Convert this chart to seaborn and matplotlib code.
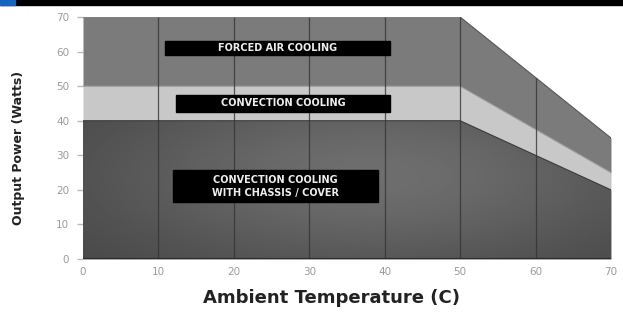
import numpy as np
import pandas as pd
import matplotlib
matplotlib.use("Agg")
import matplotlib.pyplot as plt
from matplotlib.patches import Polygon, Rectangle
import seaborn as sns

# derating curves (ambient temperature C -> output power W)
temp = [0, 10, 20, 30, 40, 50, 60, 70]
forced_air = [70, 70, 70, 70, 70, 70, 52.5, 35]
convection = [50, 50, 50, 50, 50, 50, 37.5, 25]
chassis_cover = [40, 40, 40, 40, 40, 40, 30, 20]

region_labels = ["FORCED AIR COOLING", "CONVECTION COOLING",
                 "CONVECTION COOLING\nWITH CHASSIS / COVER"]
x_ticks = [0, 10, 20, 30, 40, 50, 60, 70]
y_ticks = [0, 10, 20, 30, 40, 50, 60, 70]

df = pd.DataFrame({"temp": temp, "forced": forced_air,
                   "convection": convection, "chassis": chassis_cover})

sns.set_style("white")
fig = plt.figure(figsize=(6.23, 3.18), dpi=100)
ax = fig.add_axes([0.1332, 0.1855, 0.8475, 0.761])

# top banner
fig.patches.append(Rectangle((0, 0.985), 1, 0.015, transform=fig.transFigure,
                             color="black", zorder=0))
fig.patches.append(Rectangle((0, 0.985), 0.024, 0.015, transform=fig.transFigure,
                             color="#1565c0", zorder=1))

# regions
ax.fill_between(df["temp"], df["convection"], df["forced"], color="#7b7b7b",
                linewidth=0, zorder=1)
ax.fill_between(df["temp"], df["chassis"], df["convection"], color="#c8c8c8",
                linewidth=0, zorder=1)
ax.fill_between(df["temp"], 0, df["chassis"], color="#5a5a5a",
                linewidth=0, zorder=1)

# soft shading in the lowest region
gx, gy = np.meshgrid(np.linspace(0, 1, 200), np.linspace(0, 1, 100))
shade = 0.55 * np.exp(-((gx - 0.55) ** 2) / 0.3 - ((gy - 0.6) ** 2) / 0.5)
img = ax.imshow(shade, extent=[0, 70, 0, 40], origin="lower", cmap="gray",
                vmin=-0.85, vmax=2.4, aspect="auto", zorder=2)
poly = Polygon(np.column_stack([list(df["temp"]) + [70, 0],
                                list(df["chassis"]) + [0, 0]]),
               closed=True, transform=ax.transData, facecolor="none")
img.set_clip_path(poly)

# boundary lines
for col, c in [("forced", "#555555"), ("convection", "#9a9a9a"), ("chassis", "#3c3c3c")]:
    sns.lineplot(data=df, x="temp", y=col, color=c, linewidth=0.8, ax=ax, zorder=3)

# vertical grid lines inside filled area
for t in x_ticks[1:-1]:
    ax.vlines(t, 0, np.interp(t, temp, forced_air), color="#333333",
              linewidth=0.9, alpha=0.8, zorder=3)
ax.vlines(70, 0, forced_air[-1], color="#666666", linewidth=0.8, zorder=3)
ax.hlines(0, 0, 70, color="#2a2a2a", linewidth=1.5, zorder=3)

# labels in black boxes
boxes = [(10.9, 58.9, 29.8, 4.3, 61.0), (12.3, 42.6, 28.4, 4.9, 45.0),
         (11.9, 16.4, 27.2, 9.3, 21.0)]
for (bx, by, bw, bh, ty), lab in zip(boxes, region_labels):
    ax.add_patch(Rectangle((bx, by), bw, bh, color="black", zorder=4))
    ax.text(bx + bw / 2, ty, lab, color="#eeeeee", fontsize=7, fontweight="bold",
            ha="center", va="center", zorder=5, linespacing=1.45)

ax.set_xlim(0, 70)
ax.set_ylim(0, 70)
ax.set_xticks(x_ticks)
ax.set_yticks(y_ticks)
ax.tick_params(axis="y", length=4, color="#bbbbbb", width=1, pad=6,
               labelsize=7.5, labelcolor="#9a9a9a", left=True)
ax.tick_params(axis="x", length=0, pad=6, labelsize=7.5, labelcolor="#9a9a9a")
for s in ax.spines.values():
    s.set_visible(False)
ax.set_xlabel("Ambient Temperature (C)", fontsize=13, fontweight="bold",
              color="#222222")
ax.xaxis.set_label_coords(0.47, -0.125)
ax.set_ylabel("Output Power (Watts)", fontsize=9, fontweight="bold",
              color="#222222")
ax.yaxis.set_label_coords(-0.11, 0.46)

fig.savefig("out.png", dpi=100)
